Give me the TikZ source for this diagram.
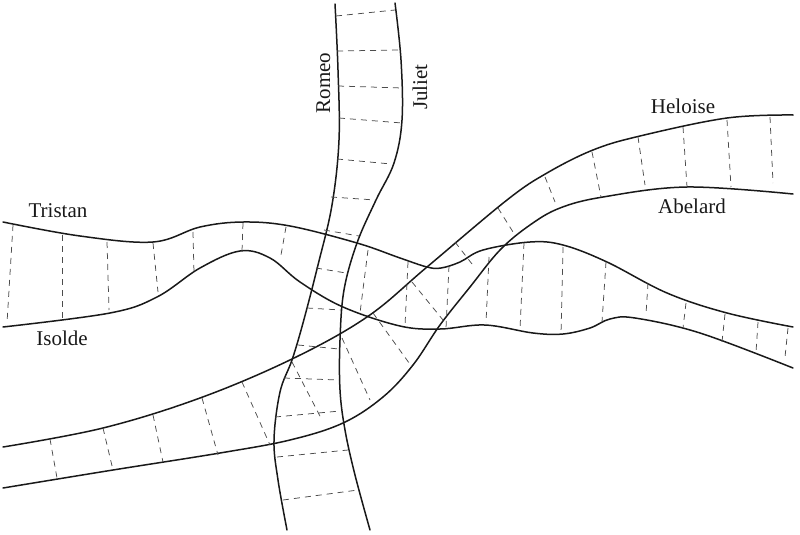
\documentclass[tikz,border=0pt]{standalone}
\usepackage{fontspec}
\setmainfont{Liberation Serif}
\usepackage{tikz}
\begin{document}
\begin{tikzpicture}[x=1pt,y=-1pt,
  edge/.style={line width=1.5pt,black!90,line cap=round,line join=round},
  rung/.style={line width=0.75pt,black!70,dash pattern=on 6pt off 5pt},
  lab/.style={font=\fontsize{21}{24}\selectfont,inner sep=0pt,anchor=base,text=black!90}]
\useasboundingbox (0,0) rectangle (800,535);
% Romeo / Juliet
\draw[edge] plot[smooth,tension=0.6] coordinates {(335,4) (338,70) (339,140) (332,205) (318,265) (303,323) (292,360) (280,392) (274,440) (278,480) (287,530)};
\draw[edge] plot[smooth,tension=0.6] coordinates {(395,3) (401,60) (402,120) (394,163) (376,200) (357,243) (344,290) (340,340) (340,390) (345,430) (355,475) (370,530)};
% Tristan / Isolde
\draw[edge] plot[smooth,tension=0.6] coordinates {(3,222) (80,236) (153,242) (200,227) (243,222) (290,226) (357,243) (400,258) (427,267) (441,268) (460,262) (483,250) (530,242) (563,245) (607,262) (667,293) (727,313) (793,327)};
\draw[edge] plot[smooth,tension=0.6] coordinates {(3,327) (110,313) (157,297) (200,268) (240,251) (270,258) (300,282) (343,307) (400,326) (440,329) (485,325) (533,333) (563,334) (590,328) (610,319) (635,318) (700,333) (793,368)};
% Heloise / Abelard
\draw[edge] plot[smooth,tension=0.6] coordinates {(3,447) (103,428) (200,398) (292,359) (367,317) (427,267) (507,200) (547,173) (593,150) (640,136) (727,118) (793,115)};
\draw[edge] plot[smooth,tension=0.6] coordinates {(3,488) (113,470) (220,453) (290,440) (343,423) (383,397) (413,365) (440,325) (470,287) (500,250) (530,225) (560,208) (603,197) (687,187) (793,194)};
% rungs Romeo-Juliet
\foreach \a/\b in {{(336,16)}/{(395,10)},{(337,51)}/{(400,50)},{(338,86)}/{(402,88)},{(339,118)}/{(402,123)},{(337,159)}/{(391,164)},{(331,197)}/{(375,200)},{(324,230)}/{(359,236)},{(316,268)}/{(346,273)},{(307,308)}/{(341,310)},{(298,345)}/{(339,349)},{(284,378)}/{(339,380)},{(275,417)}/{(340,411)},{(277,457)}/{(348,450)},{(283,500)}/{(358,490)}}
  \draw[rung] \a -- \b;
% rungs Tristan-Isolde
\foreach \a/\b in {{(13,225)}/{(7,323)},{(62,235)}/{(62,318)},{(107,242)}/{(109,310)},{(153,243)}/{(158,292)},{(193,232)}/{(194,273)},{(243,223)}/{(242,251)},{(286,227)}/{(281,255)},{(368,250)}/{(360,313)},{(408,262)}/{(405,326)},{(449,266)}/{(446,328)},{(489,257)}/{(486,323)},{(524,243)}/{(520,329)},{(563,247)}/{(561,334)},{(606,262)}/{(602,322)},{(648,283)}/{(646,314)},{(686,303)}/{(683,328)},{(725,314)}/{(722,342)},{(758,322)}/{(756,352)},{(788,328)}/{(785,357)}}
  \draw[rung] \a -- \b;
% rungs Heloise-Abelard
\foreach \a/\b in {{(50,439)}/{(57,478)},{(103,428)}/{(113,470)},{(153,415)}/{(163,462)},{(202,398)}/{(218,455)},{(242,382)}/{(270,445)},{(292,362)}/{(322,420)},{(342,338)}/{(370,400)},{(373,313)}/{(412,367)},{(412,282)}/{(443,320)},{(455,242)}/{(472,264)},{(498,208)}/{(513,232)},{(545,177)}/{(555,202)},{(592,152)}/{(601,197)},{(638,137)}/{(645,185)},{(683,127)}/{(687,187)},{(727,120)}/{(731,187)},{(770,117)}/{(773,183)}}
  \draw[rung] \a -- \b;
% labels
\node[lab] (tristan) at (58,217) {Tristan};
\node[lab] (isolde) at (62,345) {Isolde};
\node[lab] (heloise) at (683,113) {Heloise};
\node[lab] (abelard) at (692,213) {Abelard};
\node[lab,rotate=90] (romeo) at (330,83) {Romeo};
\node[lab,rotate=90] (juliet) at (427,87) {Juliet};
\end{tikzpicture}
\end{document}
